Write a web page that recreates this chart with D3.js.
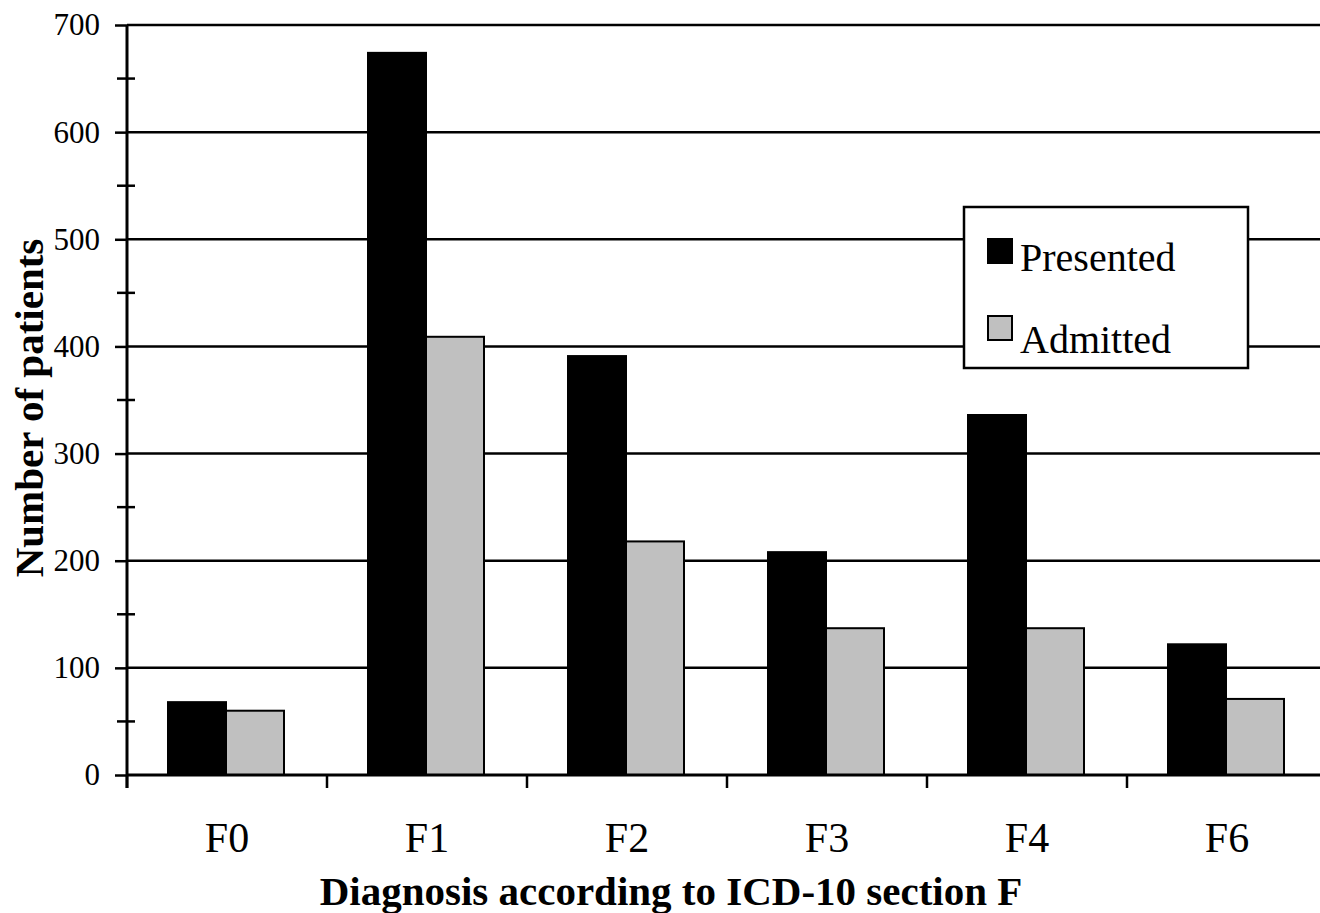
<!DOCTYPE html>
<html>
<head>
<meta charset="utf-8">
<script src="https://cdn.jsdelivr.net/npm/d3@7/dist/d3.min.js"></script>
<style>
  body { margin: 0; background: #fff; }
  svg { display: block; }
  text { font-family: "Liberation Serif", "Times New Roman", serif; fill: #000; }
</style>
</head>
<body>
<div id="chart"></div>
<script>
// data
var categories = ['F0', 'F1', 'F2', 'F3', 'F4', 'F6'];
var seriesNames = ['Presented', 'Admitted'];
var presented = [68, 674, 391, 208, 336, 122];
var admitted = [60, 409, 218, 137, 137, 71];
var majorTicks = [0, 100, 200, 300, 400, 500, 600, 700];
var minorTicks = [50, 150, 250, 350, 450, 550, 650];

var width = 1320, height = 913;
// plot edges (window.top is reserved, so use other names)
var plotLeft = 127, plotRight = 1320, plotBottom = 775, plotTop = 25;

var svg = d3.select('#chart').append('svg')
    .attr('width', width)
    .attr('height', height);

var y = d3.scaleLinear().domain([0, 700]).range([plotBottom, plotTop]);

var x0 = d3.scaleBand()
    .domain(categories)
    .range([plotLeft, plotLeft + 200 * categories.length])
    .padding(0);

var x1 = d3.scaleBand()
    .domain(seriesNames)
    .range([41, 157]);

var colors = { 'Presented': '#000', 'Admitted': '#c0c0c0' };

// gridlines
svg.append('g').selectAll('line')
    .data(majorTicks.filter(function(d) { return d > 0; }))
    .enter().append('line')
    .attr('x1', plotLeft).attr('x2', plotRight)
    .attr('y1', function(d) { return y(d); })
    .attr('y2', function(d) { return y(d); })
    .attr('stroke', '#000')
    .attr('stroke-width', 2.5);

// bars
var rows = categories.map(function(c, i) {
    return { cat: c, values: [
        { name: 'Presented', value: presented[i] },
        { name: 'Admitted', value: admitted[i] }
    ]};
});

var groups = svg.append('g').selectAll('g')
    .data(rows).enter().append('g')
    .attr('transform', function(d) { return 'translate(' + x0(d.cat) + ',0)'; });

groups.selectAll('rect')
    .data(function(d) { return d.values; })
    .enter().append('rect')
    .attr('x', function(d) { return x1(d.name); })
    .attr('width', x1.bandwidth())
    .attr('y', function(d) { return y(d.value); })
    .attr('height', function(d) { return plotBottom - y(d.value); })
    .attr('fill', function(d) { return colors[d.name]; })
    .attr('stroke', '#000')
    .attr('stroke-width', 2);

// x axis line and category ticks
svg.append('line')
    .attr('x1', plotLeft).attr('x2', plotRight)
    .attr('y1', plotBottom).attr('y2', plotBottom)
    .attr('stroke', '#000').attr('stroke-width', 3);

svg.append('g').selectAll('line')
    .data(categories)
    .enter().append('line')
    .attr('x1', function(d) { return x0(d); })
    .attr('x2', function(d) { return x0(d); })
    .attr('y1', plotBottom).attr('y2', plotBottom + 13)
    .attr('stroke', '#000').attr('stroke-width', 2.5);

svg.append('g').selectAll('text')
    .data(categories)
    .enter().append('text')
    .attr('x', function(d) { return x0(d) + x0.bandwidth() / 2; })
    .attr('y', 852)
    .attr('text-anchor', 'middle')
    .style('font-size', '42px')
    .text(function(d) { return d; });

// y axis
var yAxis = svg.append('g')
    .attr('transform', 'translate(' + plotLeft + ',0)')
    .call(d3.axisLeft(y).tickValues(majorTicks).tickSize(12).tickPadding(15));

yAxis.select('.domain').remove();
yAxis.selectAll('.tick line').attr('stroke', '#000').attr('stroke-width', 2.5);
yAxis.selectAll('.tick text')
    .style('font-family', '"Liberation Serif", "Times New Roman", serif')
    .style('font-size', '31px')
    .attr('fill', '#000');

svg.append('g').selectAll('line')
    .data(minorTicks)
    .enter().append('line')
    .attr('x1', plotLeft - 10).attr('x2', plotLeft + 8)
    .attr('y1', function(d) { return y(d); })
    .attr('y2', function(d) { return y(d); })
    .attr('stroke', '#000').attr('stroke-width', 2.5);

svg.append('line')
    .attr('x1', plotLeft).attr('x2', plotLeft)
    .attr('y1', plotTop).attr('y2', plotBottom + 13)
    .attr('stroke', '#000').attr('stroke-width', 3);

// axis titles
svg.append('text')
    .attr('x', 671).attr('y', 905)
    .attr('text-anchor', 'middle')
    .style('font-size', '41px')
    .style('font-weight', 'bold')
    .text('Diagnosis according to ICD-10 section F');

svg.append('text')
    .attr('transform', 'translate(43,408) rotate(-90)')
    .attr('text-anchor', 'middle')
    .style('font-size', '41px')
    .style('font-weight', 'bold')
    .text('Number of patients');

// legend
var legend = svg.append('g').attr('transform', 'translate(964,207)');

legend.append('rect')
    .attr('width', 284).attr('height', 161)
    .attr('fill', '#fff')
    .attr('stroke', '#000').attr('stroke-width', 2.5);

var items = legend.selectAll('g.item')
    .data(seriesNames).enter().append('g')
    .attr('class', 'item')
    .attr('transform', function(d, i) { return 'translate(0,' + (i * 77) + ')'; });

items.append('rect')
    .attr('x', 24).attr('y', 32)
    .attr('width', 24).attr('height', 24)
    .attr('fill', function(d) { return colors[d]; })
    .attr('stroke', '#000').attr('stroke-width', 2);

items.append('text')
    .attr('x', 56).attr('y', function(d, i) { return i === 0 ? 64 : 69; })
    .style('font-size', '40px')
    .text(function(d) { return d; });
</script>
</body>
</html>
